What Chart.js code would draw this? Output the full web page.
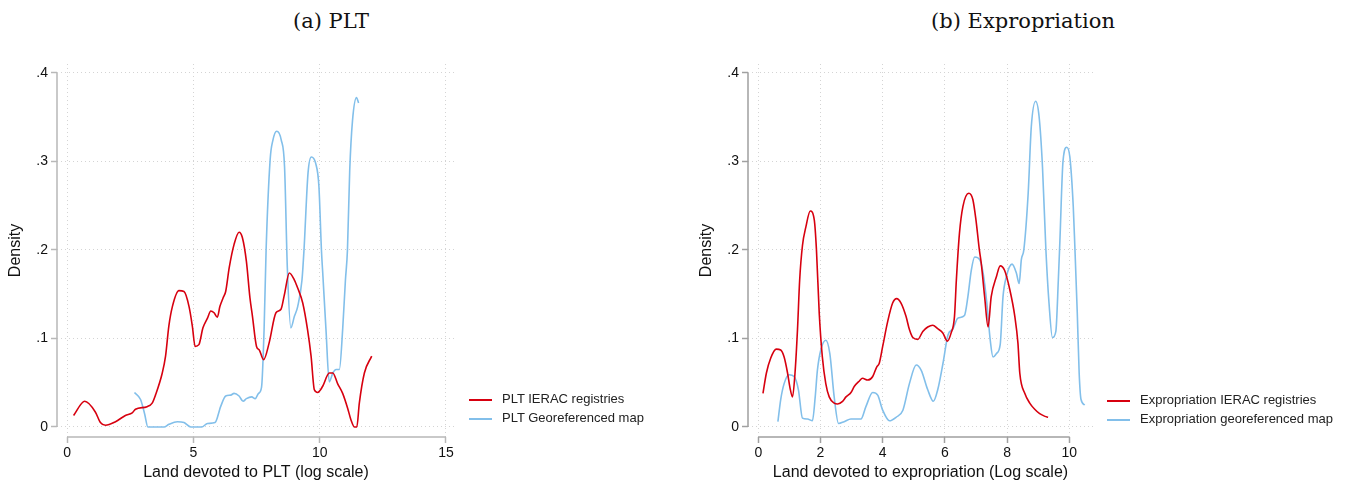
<!DOCTYPE html>
<html>
<head>
<meta charset="utf-8">
<script src="https://cdn.jsdelivr.net/npm/chart.js@4"></script>
<style>
  body { margin: 0; background: #fff; }
  #wrap { position: relative; width: 1348px; height: 486px; overflow: hidden; }
  canvas { position: absolute; top: 0; }
  .title { position: absolute; top: 9px; width: 300px; text-align: center;
           font-family: "DejaVu Serif", serif; font-size: 21px; line-height: 24px; color: #111; }
  .legend { position: absolute; font-family: "Liberation Sans", Arial, sans-serif; font-size: 13px; color: #222; }
  .legend div { height: 19px; line-height: 19px; white-space: nowrap; }
  .legend span { display: inline-block; width: 23px; height: 0; border-top: 2px solid; vertical-align: middle; margin-right: 10px; }
</style>
</head>
<body>
<div id="wrap">
  <div class="title" style="left:181px">(a) PLT</div>
  <div class="title" style="left:873px">(b) Expropriation</div>
  <canvas id="plt" width="674" height="486" style="left:0"></canvas>
  <canvas id="exp" width="674" height="486" style="left:674px"></canvas>
  <div class="legend" id="legPlt" style="left:469px;top:389px"></div>
  <div class="legend" id="legExp" style="left:1107px;top:390px"></div>
</div>
<script>
// PLT panel
const pltXTicks = [0, 5, 10, 15];
const pltIeracX = [0.26, 0.70, 1.12, 1.32, 1.52, 1.92, 2.31, 2.58, 2.71, 3.17, 3.37, 3.5, 3.77, 3.9, 4.03, 4.17, 4.43, 4.63, 4.83, 4.96,
  5.07, 5.22, 5.38, 5.56, 5.69, 5.82, 5.95, 6.05, 6.18, 6.28, 6.42, 6.61, 6.81, 6.94, 7.10, 7.24, 7.34, 7.5, 7.61, 7.78,
  8.0, 8.27, 8.47, 8.6, 8.8, 9.0, 9.13, 9.33, 9.52, 9.66, 9.79, 9.92, 10.12, 10.38, 10.52, 10.71, 10.91, 11.11, 11.24, 11.38,
  11.47, 11.57, 11.77, 12.06];
const pltIeracY = [0.013, 0.029, 0.017, 0.005, 0.002, 0.006, 0.013, 0.016, 0.020, 0.023, 0.027, 0.036, 0.061, 0.080, 0.114, 0.136, 0.154, 0.153, 0.136, 0.114,
  0.091, 0.093, 0.112, 0.123, 0.131, 0.129, 0.124, 0.136, 0.146, 0.153, 0.180, 0.206, 0.220, 0.214, 0.187, 0.146, 0.125, 0.091, 0.087, 0.076,
  0.095, 0.129, 0.133, 0.149, 0.174, 0.166, 0.157, 0.140, 0.110, 0.080, 0.042, 0.039, 0.046, 0.061, 0.061, 0.049, 0.038, 0.021, 0.008, 0,
  0, 0.027, 0.061, 0.080];
const pltGeoX = [2.67, 2.91, 3.07, 3.2, 3.84, 4.03, 4.37, 4.63, 4.9, 5.33, 5.56, 5.86, 6.08, 6.28, 6.48, 6.61, 6.81, 6.97, 7.10, 7.31,
  7.45, 7.58, 7.70, 7.80, 7.88, 8.04, 8.15, 8.30, 8.48, 8.61, 8.72, 8.86, 9.0, 9.13, 9.3, 9.38, 9.54, 9.67, 9.84, 9.97,
  10.07, 10.13, 10.25, 10.38, 10.52, 10.65, 10.78, 10.91, 11.02, 11.10, 11.19, 11.30, 11.46, 11.54];
const pltGeoY = [0.039, 0.031, 0.015, 0, 0, 0.003, 0.006, 0.005, 0, 0, 0.004, 0.005, 0.023, 0.035, 0.036, 0.038, 0.035, 0.029, 0.032, 0.034,
  0.032, 0.038, 0.045, 0.110, 0.200, 0.302, 0.324, 0.334, 0.324, 0.294, 0.180, 0.112, 0.125, 0.136, 0.166, 0.200, 0.287, 0.305, 0.298, 0.272,
  0.200, 0.170, 0.110, 0.051, 0.061, 0.065, 0.065, 0.110, 0.166, 0.200, 0.290, 0.346, 0.372, 0.366];

// Expropriation panel
const expXTicks = [0, 2, 4, 6, 8, 10];
const expIeracX = [0.15, 0.26, 0.40, 0.58, 0.72, 0.83, 0.94, 1.02, 1.10, 1.18, 1.26, 1.33, 1.42, 1.53, 1.67, 1.80, 1.87, 1.96, 2.06, 2.17,
  2.28, 2.44, 2.55, 2.71, 2.82, 2.98, 3.09, 3.25, 3.35, 3.52, 3.68, 3.81, 3.89, 4.0, 4.16, 4.32, 4.45, 4.59, 4.75, 4.86,
  4.97, 5.13, 5.29, 5.45, 5.61, 5.77, 5.94, 6.08, 6.20, 6.31, 6.37, 6.47, 6.58, 6.77, 6.9, 7.0, 7.11, 7.17, 7.28, 7.39,
  7.49, 7.66, 7.78, 7.92, 8.09, 8.25, 8.35, 8.41, 8.57, 8.73, 8.89, 9.05, 9.22, 9.32];
const expIeracY = [0.038, 0.061, 0.078, 0.088, 0.087, 0.079, 0.061, 0.044, 0.034, 0.061, 0.110, 0.166, 0.205, 0.226, 0.244, 0.234, 0.200, 0.128, 0.079, 0.049,
  0.034, 0.027, 0.026, 0.029, 0.034, 0.039, 0.046, 0.052, 0.055, 0.053, 0.057, 0.068, 0.072, 0.091, 0.119, 0.140, 0.145, 0.140, 0.125, 0.110,
  0.101, 0.099, 0.108, 0.113, 0.115, 0.111, 0.106, 0.097, 0.106, 0.125, 0.166, 0.219, 0.249, 0.264, 0.257, 0.234, 0.200, 0.185, 0.147, 0.113,
  0.147, 0.170, 0.182, 0.177, 0.155, 0.125, 0.095, 0.061, 0.038, 0.027, 0.020, 0.015, 0.012, 0.011];
const expGeoX = [0.63, 0.72, 0.83, 0.99, 1.15, 1.29, 1.42, 1.58, 1.74, 1.83, 1.90, 2.01, 2.17, 2.30, 2.44, 2.58, 2.76, 2.98, 3.30, 3.46,
  3.68, 3.84, 4.0, 4.22, 4.43, 4.65, 4.86, 5.08, 5.24, 5.45, 5.63, 5.77, 5.94, 6.1, 6.26, 6.42, 6.63, 6.74, 6.85, 6.96,
  7.12, 7.23, 7.35, 7.46, 7.55, 7.66, 7.78, 7.87, 7.98, 8.16, 8.3, 8.39, 8.46, 8.54, 8.68, 8.78, 8.92, 9.03, 9.14, 9.25,
  9.35, 9.46, 9.57, 9.65, 9.70, 9.8, 9.92, 10.02, 10.13, 10.18, 10.26, 10.32, 10.38, 10.5];
const expGeoY = [0.006, 0.031, 0.049, 0.059, 0.057, 0.042, 0.010, 0.009, 0.007, 0.034, 0.064, 0.087, 0.098, 0.083, 0.034, 0.004, 0.006, 0.009, 0.009, 0.023,
  0.039, 0.036, 0.019, 0.007, 0.011, 0.019, 0.049, 0.070, 0.064, 0.042, 0.029, 0.042, 0.072, 0.104, 0.111, 0.123, 0.126, 0.147, 0.177, 0.192,
  0.189, 0.174, 0.140, 0.098, 0.079, 0.083, 0.093, 0.147, 0.170, 0.184, 0.174, 0.162, 0.189, 0.200, 0.264, 0.339, 0.368, 0.351, 0.294, 0.200,
  0.140, 0.101, 0.108, 0.166, 0.210, 0.300, 0.316, 0.305, 0.249, 0.205, 0.128, 0.061, 0.031, 0.025];

const yTicks = [0, 0.1, 0.2, 0.3, 0.4];
const yTickLabels = ['0', '.1', '.2', '.3', '.4'];

const RED = '#d7000f';
const BLUE = '#82bfea';

function pts(xs, ys) { return xs.map((x, i) => ({ x: x, y: ys[i] })); }

// axis lines only from first to last tick, like the original
const axisLines = {
  id: 'axisLines',
  afterDraw(chart, args, opts) {
    const { ctx, chartArea, scales: { x, y } } = chart;
    const xt = x.ticks, yt = y.ticks;
    ctx.save();
    ctx.strokeStyle = opts.color;
    ctx.lineWidth = 1.5;
    ctx.beginPath();
    ctx.moveTo(chartArea.left, y.getPixelForValue(yt[0].value));
    ctx.lineTo(chartArea.left, y.getPixelForValue(yt[yt.length - 1].value));
    ctx.moveTo(x.getPixelForValue(xt[0].value), chartArea.bottom);
    ctx.lineTo(x.getPixelForValue(xt[xt.length - 1].value), chartArea.bottom);
    ctx.stroke();
    ctx.restore();
  }
};

function makeChart(id, cfg) {
  const font = { family: '"Liberation Sans", Arial, sans-serif' };
  return new Chart(document.getElementById(id), {
    type: 'scatter',
    data: {
      datasets: cfg.series.map(s => ({
        label: s.label,
        data: pts(s.x, s.y),
        showLine: true,
        borderColor: s.color,
        borderWidth: 1.6,
        pointRadius: 0,
        cubicInterpolationMode: 'monotone'
      }))
    },
    options: {
      responsive: false,
      animation: false,
      devicePixelRatio: 1,
      layout: { padding: cfg.padding },
      scales: {
        x: {
          type: 'linear',
          min: cfg.xMin, max: cfg.xMax,
          afterBuildTicks: s => { s.ticks = cfg.xTicks.map(v => ({ value: v })); },
          afterFit: s => { s.height = 49; },
          grid: { color: '#d4d4d4', tickColor: cfg.axisColor, tickLength: 6, tickBorderDash: [], tickWidth: 1.5 },
          border: { display: false, dash: [1, 3] },
          ticks: { color: '#111', font: { ...font, size: 14 }, padding: 2, maxRotation: 0 },
          title: { display: true, text: cfg.xTitle, color: '#111', font: { ...font, size: 16 }, padding: { top: 4, bottom: 4 } }
        },
        y: {
          min: -0.0113, max: 0.41,
          afterBuildTicks: s => { s.ticks = yTicks.map(v => ({ value: v })); },
          afterFit: s => { s.width = 55; },
          grid: { color: '#d4d4d4', tickColor: cfg.axisColor, tickLength: 6, tickBorderDash: [], tickWidth: 1.5 },
          border: { display: false, dash: [1, 3] },
          ticks: { color: '#111', font: { ...font, size: 14 }, padding: 3,
                   callback: v => yTickLabels[yTicks.indexOf(v)] },
          title: { display: true, text: 'Density', color: '#111', font: { ...font, size: 16 }, padding: { top: 4, bottom: 4 } }
        }
      },
      plugins: {
        legend: { display: false },
        tooltip: { enabled: false },
        axisLines: { color: cfg.axisColor }
      }
    },
    plugins: [axisLines]
  });
}

function htmlLegend(chart, id) {
  const el = document.getElementById(id);
  el.innerHTML = chart.data.datasets.map(d =>
    '<div><span style="border-color:' + d.borderColor + '"></span>' + d.label + '</div>').join('');
}

const pltChart = makeChart('plt', {
  series: [
    { label: 'PLT IERAC registries', x: pltIeracX, y: pltIeracY, color: RED },
    { label: 'PLT Georeferenced map', x: pltGeoX, y: pltGeoY, color: BLUE }
  ],
  xTicks: pltXTicks, xMin: -0.397, xMax: 15.357,
  xTitle: 'Land devoted to PLT (log scale)',
  padding: { left: 2, right: 219, top: 64, bottom: 0 },
  axisColor: '#b8b8b8'
});

const expChart = makeChart('exp', {
  series: [
    { label: 'Expropriation IERAC registries', x: expIeracX, y: expIeracY, color: RED },
    { label: 'Expropriation georeferenced map', x: expGeoX, y: expGeoY, color: BLUE }
  ],
  xTicks: expXTicks, xMin: -0.332, xMax: 10.765,
  xTitle: 'Land devoted to expropriation (Log scale)',
  padding: { left: 19, right: 255, top: 64, bottom: 0 },
  axisColor: '#a0a0a0'
});

htmlLegend(pltChart, 'legPlt');
htmlLegend(expChart, 'legExp');
</script>
</body>
</html>
